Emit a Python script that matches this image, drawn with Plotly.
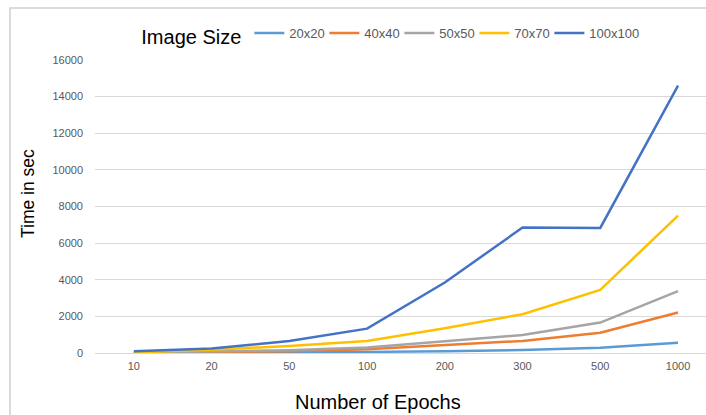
import plotly.graph_objects as go

epochs = ["10", "20", "50", "100", "200", "300", "500", "1000"]
series_names = ["20x20", "40x40", "50x50", "70x70", "100x100"]
s20 = [5, 15, 30, 60, 100, 165, 280, 565]
s40 = [10, 50, 100, 200, 450, 660, 1110, 2210]
s50 = [20, 70, 150, 300, 650, 985, 1660, 3380]
s70 = [30, 180, 380, 650, 1350, 2120, 3450, 7500]
s100 = [100, 250, 650, 1330, 3850, 6850, 6830, 14600]
colors = ["#5B9BD5", "#ED7D31", "#A5A5A5", "#FFC000", "#4472C4"]

fig = go.Figure()
for name, vals, c in zip(series_names, [s20, s40, s50, s70, s100], colors):
    fig.add_trace(go.Scatter(x=epochs, y=vals, name=name, mode="lines",
                             line=dict(color=c, width=2.5)))
# invisible spacer entry so the last legend label is not clipped
fig.add_trace(go.Scatter(x=[None], y=[None], name=" ", mode="lines",
                         line=dict(color="rgba(0,0,0,0)", width=0), hoverinfo="skip"))

fig.update_layout(
    width=706, height=415,
    margin=dict(l=95, r=0, t=60, b=62),
    paper_bgcolor="white", plot_bgcolor="white",
    font=dict(family="Liberation Sans, Arial, sans-serif", color="#000000"),
    showlegend=True,
    legend=dict(
        orientation="h", x=0.0725, xanchor="left", y=1.082, yanchor="middle",
        title=dict(text="Image Size", font=dict(size=20, color="#000000"), side="left"),
        font=dict(family="Liberation Sans, Arial, sans-serif", size=13, color="#595959"),
        itemwidth=30, entrywidth=30, tracegroupgap=0, bgcolor="rgba(0,0,0,0)",
    ),
    xaxis=dict(
        type="category", range=[-0.5, 7.36],
        showgrid=False, showline=False, zeroline=False,
        tickfont=dict(size=11, color="#595959"), ticks="", ticklabelstandoff=5,
    ),
    yaxis=dict(
        range=[0, 16000], dtick=2000, tickformat="d",
        showgrid=True, gridcolor="#D9D9D9", gridwidth=1,
        zeroline=True, zerolinecolor="#D9D9D9", zerolinewidth=1,
        showline=False, ticks="", ticklabelstandoff=11,
        tickfont=dict(size=11, color="#595959"),
    ),
    annotations=[
        dict(text="Number of Epochs", xref="paper", yref="paper",
             x=(377.5 - 95) / 611, y=(353 - 402) / 293, xanchor="center", yanchor="middle",
             showarrow=False, font=dict(size=20, color="#000000")),
        dict(text="Time in sec", xref="paper", yref="paper", textangle=-90,
             x=(28 - 95) / 611, y=(353 - 194) / 293, xanchor="center", yanchor="middle",
             showarrow=False, font=dict(size=17.5, color="#000000")),
    ],
    shapes=[dict(type="rect", xref="paper", yref="paper",
                 x0=(10 - 95) / 611, x1=1.02, y0=-0.3, y1=(353 - 8) / 293,
                 line=dict(color="#D0D0D0", width=1.5), layer="below")],
)

fig.write_html("out.html")
